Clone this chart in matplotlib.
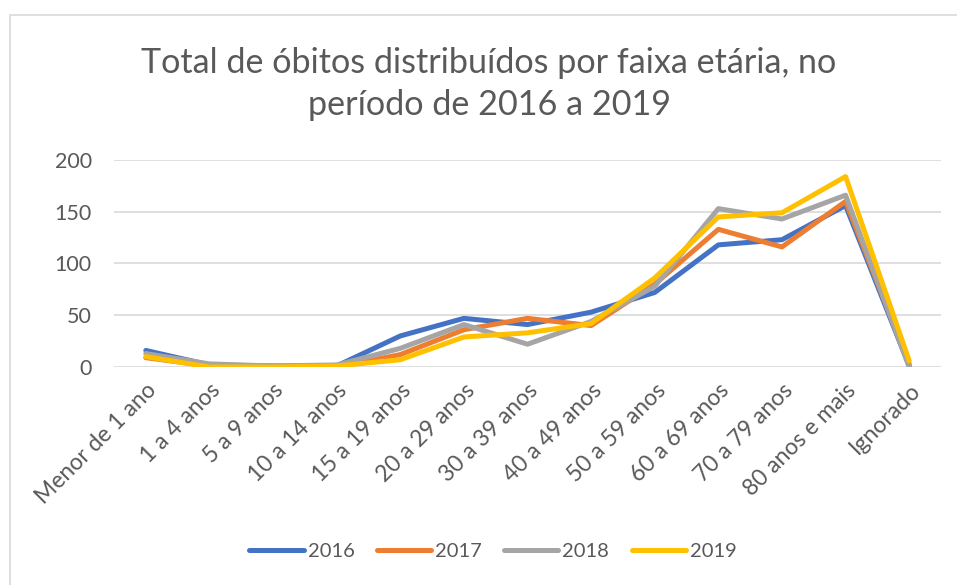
import matplotlib
matplotlib.use("Agg")
import matplotlib.pyplot as plt
from matplotlib.patches import Rectangle

plt.rcParams['font.family'] = ['Lato', 'DejaVu Sans']

categories = ["Menor de 1 ano", "1 a 4 anos", "5 a 9 anos", "10 a 14 anos",
              "15 a 19 anos", "20 a 29 anos", "30 a 39 anos", "40 a 49 anos",
              "50 a 59 anos", "60 a 69 anos", "70 a 79 anos", "80 anos e mais",
              "Ignorado"]
series_names = ["2016", "2017", "2018", "2019"]
v2016 = [16, 2, 1, 1, 30, 47, 41, 53, 72, 118, 123, 156, 1]
v2017 = [9, 1, 0, 0, 12, 36, 47, 40, 80, 133, 116, 160, 3]
v2018 = [13, 3, 1, 2, 18, 41, 22, 44, 78, 153, 143, 166, 0]
v2019 = [10, 0, 0, 1, 7, 29, 33, 42, 86, 145, 149, 184, 6]
yticks = [0, 50, 100, 150, 200]
title = "Total de óbitos distribuídos por faixa etária, no\nperíodo de 2016 a 2019"

colors = ["#4472C4", "#ED7D31", "#A5A5A5", "#FFC000"]
text_color = "#595959"

fig = plt.figure(figsize=(9.57, 5.85), dpi=100)
fig.patch.set_facecolor("white")
W, H = 957, 585
ax = fig.add_axes([114 / W, 1 - 367 / H, (941 - 114) / W, (367 - 160) / H])

x = list(range(len(categories)))
for name, vals, c in zip(series_names, [v2016, v2017, v2018, v2019], colors):
    ax.plot(x, vals, color=c, lw=3.6, solid_capstyle='round',
            solid_joinstyle='round', label=name)

ax.set_ylim(0, 200)
ax.set_xlim(-0.5, len(categories) - 0.5)
ax.set_yticks(yticks)
ax.set_yticklabels([str(t) for t in yticks])
ax.set_xticks(x)
ax.set_xticklabels(categories, rotation=45, ha='right', rotation_mode='anchor')
ax.tick_params(axis='both', length=0, colors=text_color)
ax.tick_params(axis='y', pad=16, labelsize=15.5)
ax.tick_params(axis='x', pad=9, labelsize=16.5)
ax.grid(axis='y', color="#D9D9D9", lw=1.2)
ax.set_axisbelow(True)
for s in ax.spines.values():
    s.set_visible(False)

fig.text(489 / W, 1 - 84 / H, title, ha='center', va='center',
         fontsize=24.6, color=text_color, linespacing=1.38)

leg = fig.legend(loc='center', bbox_to_anchor=(493 / W, 1 - 551 / H), ncol=4,
                 frameon=False, fontsize=14.5, handlelength=2.7,
                 handletextpad=0.2, columnspacing=1.1)
for t in leg.get_texts():
    t.set_color(text_color)

fig.add_artist(Rectangle((10 / W, -0.1), 1.0, 1 - 15 / H + 0.1,
                         transform=fig.transFigure, fill=False,
                         edgecolor="#D9D9D9", lw=1.2))

fig.savefig("out.png", dpi=100)
